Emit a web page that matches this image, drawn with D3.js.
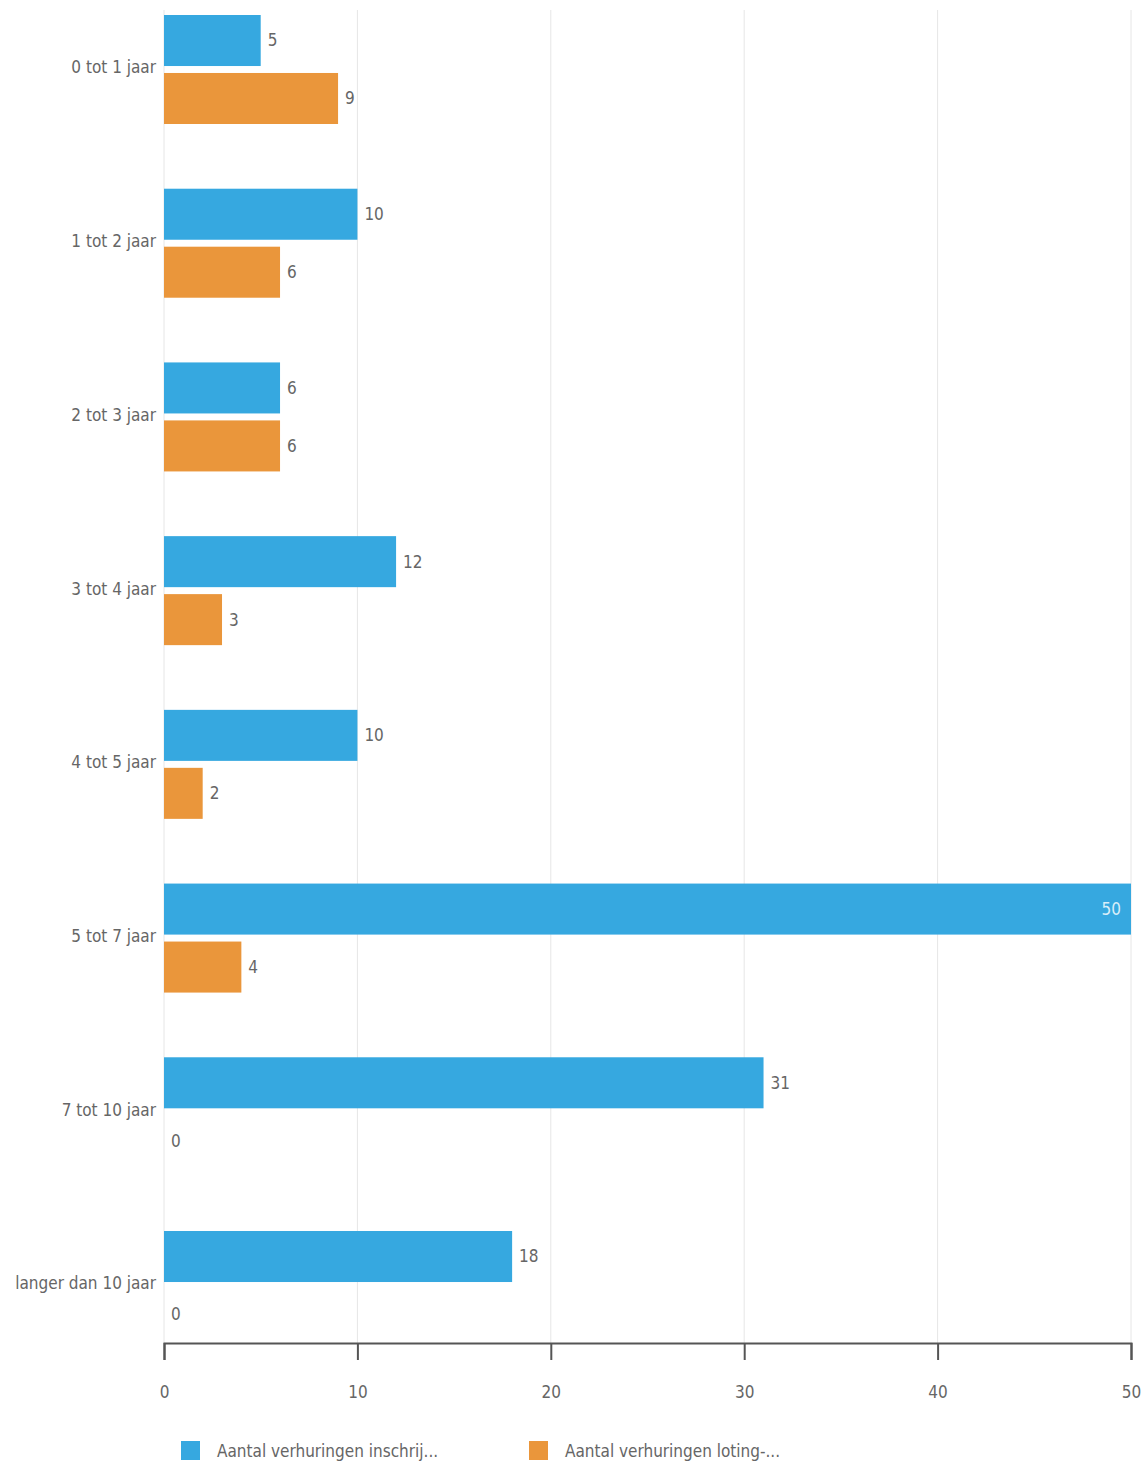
<!DOCTYPE html>
<html><head><meta charset="utf-8">
<script src="https://cdn.jsdelivr.net/npm/d3@7"></script>
<style>
body{margin:0;background:#fff;}
text{font-family:"DejaVu Sans Condensed","Liberation Sans Narrow","DejaVu Sans",sans-serif;}
</style></head>
<body>
<svg id="chart" width="1141" height="1463"></svg>
<script>
const categories = ["0 tot 1 jaar","1 tot 2 jaar","2 tot 3 jaar","3 tot 4 jaar","4 tot 5 jaar","5 tot 7 jaar","7 tot 10 jaar","langer dan 10 jaar"];
const seriesNames = ["Aantal verhuringen inschrij...","Aantal verhuringen loting-..."];
const inschrijving = [5,10,6,12,10,50,31,18];
const loting = [9,6,6,3,2,4,0,0];
const xTicks = [0,10,20,30,40,50];
const colors = ["#36a8e0","#ea963b"];

const svg = d3.select("#chart");
const x = d3.scaleLinear().domain([0,50]).range([164,1131]);
const y = d3.scaleBand().domain(categories).range([15,1340]).paddingInner(0.3725).paddingOuter(0);
const ys = d3.scaleBand().domain([0,1]).range([0,y.bandwidth()]).paddingInner(0.12);

// gridlines
svg.append("g").selectAll("line").data(xTicks).join("line")
  .attr("x1",d=>x(d)).attr("x2",d=>x(d)).attr("y1",10).attr("y2",1343)
  .attr("stroke","#e6e6e6").attr("stroke-width",1);

const data = categories.map((c,i)=>({cat:c, vals:[inschrijving[i], loting[i]]}));

const g = svg.append("g").selectAll("g").data(data).join("g")
  .attr("transform",d=>`translate(0,${y(d.cat)})`);

g.selectAll("rect").data(d=>d.vals.map((v,k)=>({v,k}))).join("rect")
  .attr("x",x(0)).attr("y",d=>ys(d.k)).attr("height",ys.bandwidth())
  .attr("width",d=>x(d.v)-x(0)).attr("fill",d=>colors[d.k]);

g.selectAll("text.val").data(d=>d.vals.map((v,k)=>({v,k}))).join("text")
  .attr("class","val")
  .attr("x",d=>d.v>=45 ? x(d.v)-10 : x(d.v)+7)
  .attr("y",d=>ys(d.k)+ys.bandwidth()/2)
  .attr("dy","0.35em")
  .attr("text-anchor",d=>d.v>=45?"end":"start")
  .attr("font-size",17)
  .attr("fill",d=>d.v>=45?"#d8eef9":"#666")
  .text(d=>d.v);

// category labels
svg.append("g").selectAll("text").data(categories).join("text")
  .attr("x",156).attr("y",d=>y(d)+y.bandwidth()/2-2).attr("dy","0.35em")
  .attr("text-anchor","end").attr("font-size",17).attr("fill","#666")
  .text(d=>d);

// x axis
const axis = svg.append("g").attr("transform","translate(0,1343)")
  .call(d3.axisBottom(x).tickValues(xTicks).tickSize(17).tickPadding(26));
axis.select(".domain").attr("stroke","#555").attr("stroke-width",2);
axis.selectAll(".tick line").attr("stroke","#555").attr("stroke-width",2);
axis.selectAll(".tick text").attr("font-size",17).attr("fill","#666")
  .style("font-family",'"DejaVu Sans Condensed","Liberation Sans Narrow",sans-serif');

// legend
const legendX = [181,529];
const lg = svg.append("g").selectAll("g").data(seriesNames).join("g")
  .attr("transform",(d,i)=>`translate(${legendX[i]},1441)`);
lg.append("rect").attr("width",19).attr("height",19).attr("fill",(d,i)=>colors[i]);
lg.append("text").attr("x",36).attr("y",10).attr("dy","0.35em")
  .attr("font-size",17).attr("fill","#666").text(d=>d);
</script>
</body></html>
